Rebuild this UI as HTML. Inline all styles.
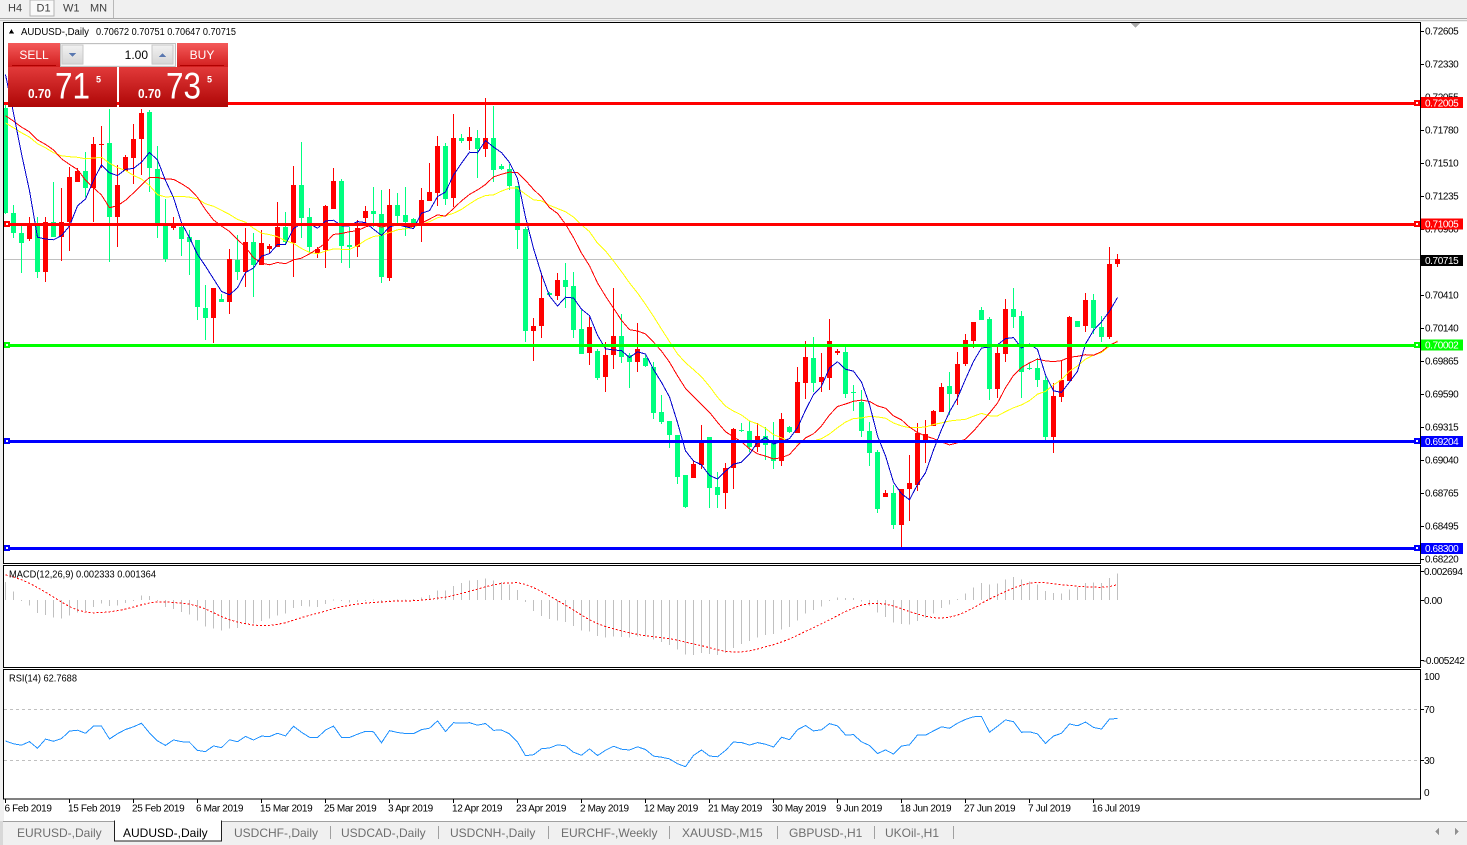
<!DOCTYPE html>
<html><head><meta charset="utf-8">
<style>
html,body{margin:0;padding:0;width:1467px;height:845px;overflow:hidden;background:#f0f0f0;}
svg{display:block;font-family:"Liberation Sans",Arial,sans-serif;}
.ax{font-size:10px;letter-spacing:-0.4px;fill:#000;}
.dt{font-size:10px;letter-spacing:-0.35px;fill:#000;}
.tab{font-size:12px;fill:#6e6e6e;}
.tb{font-size:11px;fill:#404040;}
</style></head><body>
<svg id="s" width="1467" height="845" viewBox="0 0 1467 845" xmlns="http://www.w3.org/2000/svg" shape-rendering="crispEdges">
<defs>
<linearGradient id="gBtn" x1="0" y1="0" x2="0" y2="1"><stop offset="0" stop-color="#f45a5a"/><stop offset="1" stop-color="#d21e1e"/></linearGradient>
<linearGradient id="gBig" x1="0" y1="0" x2="0" y2="1"><stop offset="0" stop-color="#e23a3a"/><stop offset="1" stop-color="#ae0606"/></linearGradient>
<linearGradient id="gArr" x1="0" y1="0" x2="0" y2="1"><stop offset="0" stop-color="#f2f2f2"/><stop offset="1" stop-color="#d6d6d6"/></linearGradient>
<clipPath id="cMain"><rect x="4" y="23" width="1416" height="540"/></clipPath>
<clipPath id="cMacd"><rect x="4" y="566" width="1416" height="101"/></clipPath>
<clipPath id="cRsi"><rect x="4" y="670" width="1416" height="128"/></clipPath>
</defs>

<rect x="0" y="0" width="1467" height="845" fill="#f0f0f0"/>
<rect x="30" y="0" width="24" height="16" fill="#f9f9f9" stroke="#b4b4b4"/>
<text class="tb" x="8" y="11.5">H4</text>
<text class="tb" x="36.5" y="11.5">D1</text>
<text class="tb" x="63" y="11.5">W1</text>
<text class="tb" x="90" y="11.5">MN</text>
<rect x="113" y="0" width="1" height="18" fill="#b8b8b8"/>
<rect x="0" y="18" width="1467" height="1" fill="#a8a8a8"/>
<rect x="0" y="20" width="1467" height="1" fill="#c8c8c8"/>

<rect x="4" y="22" width="1463" height="799" fill="#ffffff"/>

<rect x="3.5" y="22.5" width="1417" height="541" fill="none" stroke="#000"/>
<rect x="3.5" y="565.5" width="1417" height="102" fill="none" stroke="#000"/>
<rect x="3.5" y="669.5" width="1417" height="129.5" fill="none" stroke="#000"/>

<polygon points="1131,23 1140,23 1135.5,28" fill="#a8a8a8"/>

<rect x="4" y="259" width="1416" height="1" fill="#c0c0c0"/>

<g id="candles" clip-path="url(#cMain)"></g>
<g id="mas" clip-path="url(#cMain)"></g>

<g clip-path="url(#cMain)">
<rect x="4" y="102" width="1416" height="3" fill="#ff0000"/>
<rect x="4" y="223" width="1416" height="3" fill="#ff0000"/>
<rect x="4" y="344" width="1416" height="3" fill="#00ff00"/>
<rect x="4" y="440" width="1416" height="3" fill="#0000ff"/>
<rect x="4" y="547" width="1416" height="3" fill="#0000ff"/>
<rect x="4" y="221" width="6" height="6" fill="#ff0000"/><rect x="6" y="223" width="2" height="2" fill="#fff"/>
<rect x="4" y="342" width="6" height="6" fill="#00ff00"/><rect x="6" y="344" width="2" height="2" fill="#fff"/>
<rect x="4" y="438" width="6" height="6" fill="#0000ff"/><rect x="6" y="440" width="2" height="2" fill="#fff"/>
<rect x="4" y="545" width="6" height="6" fill="#0000ff"/><rect x="6" y="547" width="2" height="2" fill="#fff"/>
<rect x="1414" y="100" width="6" height="6" fill="#ff0000"/><rect x="1416" y="102" width="2" height="2" fill="#fff"/>
<rect x="1414" y="221" width="6" height="6" fill="#ff0000"/><rect x="1416" y="223" width="2" height="2" fill="#fff"/>
<rect x="1414" y="342" width="6" height="6" fill="#00ff00"/><rect x="1416" y="344" width="2" height="2" fill="#fff"/>
<rect x="1414" y="438" width="6" height="6" fill="#0000ff"/><rect x="1416" y="440" width="2" height="2" fill="#fff"/>
<rect x="1414" y="545" width="6" height="6" fill="#0000ff"/><rect x="1416" y="547" width="2" height="2" fill="#fff"/>
</g>

<polygon points="9,33.5 14,33.5 11.5,29" fill="#000"/>
<text x="21" y="35" font-size="10" textLength="68" lengthAdjust="spacingAndGlyphs">AUDUSD-,Daily</text>
<text x="96" y="35" font-size="10" textLength="140" lengthAdjust="spacingAndGlyphs">0.70672 0.70751 0.70647 0.70715</text>

<rect x="8" y="43" width="52" height="24" fill="url(#gBtn)"/>
<rect x="12" y="65" width="44" height="1" fill="#b00000"/>
<text x="34" y="59" font-size="12" fill="#fff" text-anchor="middle">SELL</text>
<rect x="60.5" y="43.5" width="115" height="23" fill="#f4f4f4" stroke="#c0c0c0"/>
<rect x="83" y="45" width="69" height="20" fill="#ffffff"/>
<rect x="62" y="45" width="21" height="19" fill="url(#gArr)" stroke="#c8c8c8"/>
<polygon points="69,53 76,53 72.5,57" fill="#5a78b0"/>
<rect x="152" y="45" width="21" height="19" fill="url(#gArr)" stroke="#c8c8c8"/>
<polygon points="159,57 166,57 162.5,53" fill="#5a78b0"/>
<text x="148" y="59" font-size="12" fill="#000" text-anchor="end">1.00</text>
<rect x="177" y="43" width="51" height="24" fill="url(#gBtn)"/>
<rect x="180" y="65" width="44" height="1" fill="#b00000"/>
<text x="202" y="59" font-size="12" fill="#fff" text-anchor="middle">BUY</text>
<rect x="8" y="67" width="109" height="40" fill="url(#gBig)"/>
<rect x="119" y="67" width="109" height="40" fill="url(#gBig)"/>
<text x="28" y="98" font-size="13" font-weight="bold" fill="#fff" textLength="23" lengthAdjust="spacingAndGlyphs">0.70</text>
<text x="55" y="98.5" font-size="37" fill="#fff" textLength="35" lengthAdjust="spacingAndGlyphs">71</text>
<text x="96" y="82.5" font-size="9" font-weight="bold" fill="#fff">5</text>
<text x="138" y="98" font-size="13" font-weight="bold" fill="#fff" textLength="23" lengthAdjust="spacingAndGlyphs">0.70</text>
<text x="166" y="98.5" font-size="37" fill="#fff" textLength="35" lengthAdjust="spacingAndGlyphs">73</text>
<text x="207" y="82.5" font-size="9" font-weight="bold" fill="#fff">5</text>

<g class="ax">
<text x="1425" y="34.5">0.72605</text>
<text x="1425" y="67.5">0.72330</text>
<text x="1425" y="100.5">0.72055</text>
<text x="1425" y="133.5">0.71780</text>
<text x="1425" y="166.5">0.71510</text>
<text x="1425" y="199.5">0.71235</text>
<text x="1425" y="232.5">0.70960</text>
<text x="1425" y="265.5">0.70685</text>
<text x="1425" y="298.5">0.70410</text>
<text x="1425" y="331.5">0.70140</text>
<text x="1425" y="364.5">0.69865</text>
<text x="1425" y="397.5">0.69590</text>
<text x="1425" y="430.5">0.69315</text>
<text x="1425" y="463.5">0.69040</text>
<text x="1425" y="496.5">0.68765</text>
<text x="1425" y="529.5">0.68495</text>
<text x="1425" y="562.5">0.68220</text>
</g>
<g fill="#000">
<rect x="1421" y="31" width="3" height="1"/><rect x="1421" y="64" width="3" height="1"/><rect x="1421" y="97" width="3" height="1"/>
<rect x="1421" y="130" width="3" height="1"/><rect x="1421" y="163" width="3" height="1"/><rect x="1421" y="196" width="3" height="1"/>
<rect x="1421" y="229" width="3" height="1"/><rect x="1421" y="262" width="3" height="1"/><rect x="1421" y="295" width="3" height="1"/>
<rect x="1421" y="328" width="3" height="1"/><rect x="1421" y="361" width="3" height="1"/><rect x="1421" y="394" width="3" height="1"/>
<rect x="1421" y="427" width="3" height="1"/><rect x="1421" y="460" width="3" height="1"/><rect x="1421" y="493" width="3" height="1"/>
<rect x="1421" y="526" width="3" height="1"/><rect x="1421" y="559" width="3" height="1"/>
</g>
<rect x="1421" y="97" width="42" height="11" fill="#ff0000"/>
<text class="ax" x="1425" y="106.5" style="fill:#fff">0.72005</text>
<rect x="1421" y="218.5" width="42" height="11" fill="#ff0000"/>
<text class="ax" x="1425" y="227.5" style="fill:#fff">0.71005</text>
<rect x="1421" y="255" width="42" height="11" fill="#000000"/>
<text class="ax" x="1425" y="264" style="fill:#fff">0.70715</text>
<rect x="1421" y="339.5" width="42" height="11" fill="#00ff00"/>
<text class="ax" x="1425" y="348.5" style="fill:#fff">0.70002</text>
<rect x="1421" y="436" width="42" height="11" fill="#0000ff"/>
<text class="ax" x="1425" y="445" style="fill:#fff">0.69204</text>
<rect x="1421" y="543" width="42" height="11" fill="#0000ff"/>
<text class="ax" x="1425" y="552" style="fill:#fff">0.68300</text>

<g id="macd" clip-path="url(#cMacd)"></g>
<text x="9" y="577.5" font-size="10" textLength="147" lengthAdjust="spacingAndGlyphs">MACD(12,26,9) 0.002333 0.001364</text>
<g class="ax">
<text x="1424" y="575">0.002694</text>
<text x="1424" y="604">0.00</text>
<text x="1423" y="664">-0.005242</text>
</g>
<rect x="1421" y="571" width="3" height="1" fill="#000"/>
<rect x="1421" y="600" width="3" height="1" fill="#000"/>
<rect x="1421" y="660" width="3" height="1" fill="#000"/>

<line x1="4" y1="709.5" x2="1420" y2="709.5" stroke="#c0c0c0" stroke-dasharray="3,3"/>
<line x1="4" y1="760.5" x2="1420" y2="760.5" stroke="#c0c0c0" stroke-dasharray="3,3"/>
<g id="rsi" clip-path="url(#cRsi)"></g>
<text x="9" y="681.5" font-size="10" textLength="68" lengthAdjust="spacingAndGlyphs">RSI(14) 62.7688</text>
<g class="ax">
<text x="1424" y="680">100</text>
<text x="1424" y="713">70</text>
<text x="1424" y="764">30</text>
<text x="1424" y="796">0</text>
</g>
<rect x="1421" y="709" width="3" height="1" fill="#000"/>
<rect x="1421" y="760" width="3" height="1" fill="#000"/>

<g fill="#000">
<rect x="5" y="799" width="1" height="4"/><rect x="69" y="799" width="1" height="4"/><rect x="133" y="799" width="1" height="4"/>
<rect x="197" y="799" width="1" height="4"/><rect x="261" y="799" width="1" height="4"/><rect x="325" y="799" width="1" height="4"/>
<rect x="389" y="799" width="1" height="4"/><rect x="453" y="799" width="1" height="4"/><rect x="517" y="799" width="1" height="4"/>
<rect x="581" y="799" width="1" height="4"/><rect x="645" y="799" width="1" height="4"/><rect x="709" y="799" width="1" height="4"/>
<rect x="773" y="799" width="1" height="4"/><rect x="837" y="799" width="1" height="4"/><rect x="901" y="799" width="1" height="4"/>
<rect x="965" y="799" width="1" height="4"/><rect x="1029" y="799" width="1" height="4"/><rect x="1093" y="799" width="1" height="4"/>
</g>
<g class="dt">
<text x="4.5" y="811.5">6 Feb 2019</text>
<text x="68" y="811.5">15 Feb 2019</text>
<text x="132" y="811.5">25 Feb 2019</text>
<text x="196" y="811.5">6 Mar 2019</text>
<text x="260" y="811.5">15 Mar 2019</text>
<text x="324" y="811.5">25 Mar 2019</text>
<text x="388" y="811.5">3 Apr 2019</text>
<text x="452" y="811.5">12 Apr 2019</text>
<text x="516" y="811.5">23 Apr 2019</text>
<text x="580" y="811.5">2 May 2019</text>
<text x="644" y="811.5">12 May 2019</text>
<text x="708" y="811.5">21 May 2019</text>
<text x="772" y="811.5">30 May 2019</text>
<text x="836" y="811.5">9 Jun 2019</text>
<text x="900" y="811.5">18 Jun 2019</text>
<text x="964" y="811.5">27 Jun 2019</text>
<text x="1028" y="811.5">7 Jul 2019</text>
<text x="1092" y="811.5">16 Jul 2019</text>
</g>

<rect x="0" y="821" width="1467" height="24" fill="#f0f0f0"/>
<rect x="0" y="821" width="1467" height="1" fill="#a0a0a0"/>
<rect x="0" y="821" width="3" height="24" fill="#d8d8d8"/>
<rect x="114.5" y="821" width="107" height="20" fill="#ffffff" stroke="#202020"/>
<rect x="115" y="820" width="106" height="2" fill="#ffffff"/>
<text class="tab" x="17" y="837">EURUSD-,Daily</text>
<text class="tab" x="123" y="837" style="fill:#000">AUDUSD-,Daily</text>
<text class="tab" x="234" y="837">USDCHF-,Daily</text>
<text class="tab" x="341" y="837">USDCAD-,Daily</text>
<text class="tab" x="450" y="837">USDCNH-,Daily</text>
<text class="tab" x="561" y="837">EURCHF-,Weekly</text>
<text class="tab" x="682" y="837">XAUUSD-,M15</text>
<text class="tab" x="789" y="837">GBPUSD-,H1</text>
<text class="tab" x="885" y="837">UKOil-,H1</text>
<g fill="#a0a0a0">
<rect x="330" y="826" width="1" height="13"/><rect x="438" y="826" width="1" height="13"/><rect x="548" y="826" width="1" height="13"/>
<rect x="669" y="826" width="1" height="13"/><rect x="777" y="826" width="1" height="13"/><rect x="874" y="826" width="1" height="13"/>
<rect x="953" y="826" width="1" height="13"/>
</g>
<polygon points="1439,828 1439,835 1435,831.5" fill="#909090"/>
<polygon points="1455,828 1455,835 1459,831.5" fill="#909090"/>
</svg>
<script>
(function(){
const D=[
['g',108,213,104,214],['g',213,233,205,238],['g',233,243,225,273],['r',225,239,217,241],['g',226,272,217,278],
['r',222,272,217,282],['g',222,237,182,237],['r',222,237,188,261],['r',177,222,167,251],['r',171,182,168,182],
['g',171,188,152,197],['r',144,188,137,222],['r',144,145,126,168],['g',143,217,109,262],['r',185,217,165,247],
['r',157,171,155,171],['r',139,158,124,184],['r',113,139,109,175],['g',112,168,110,192],['g',169,223,146,238],
['g',225,259,199,262],['r',225,228,217,230],['g',227,239,222,256],['g',237,242,230,275],['g',240,307,240,320],
['g',308,318,285,340],['r',288,318,288,343],['g',299,302,294,302],['r',259,302,249,314],['g',260,272,235,280],
['r',242,272,228,287],['g',242,265,233,297],['r',243,265,230,265],['r',246,249,244,253],['r',227,247,202,247],
['g',227,242,212,244],['r',185,243,166,277],['g',185,218,142,238],['g',217,247,208,253],['r',249,253,247,258],
['r',206,250,205,268],['r',181,209,168,209],['g',181,246,179,263],['g',245,247,227,268],['r',228,247,220,257],
['r',211,218,206,222],['g',211,214,187,227],['g',214,277,190,283],['r',205,278,189,281],['g',205,216,193,223],
['g',215,222,187,236],['g',219,223,218,223],['r',200,223,188,242],['r',192,201,163,201],['r',146,193,136,206],
['g',146,199,143,205],['r',138,198,114,207],['g',138,141,134,143],['r',137,141,127,150],['g',138,149,130,178],
['r',138,149,98,157],['g',138,170,106,182],['g',166,169,164,170],['g',169,186,164,190],['g',186,230,186,249],
['g',229,331,227,342],['r',326,331,318,361],['r',298,326,273,338],['g',293,295,292,295],['r',280,296,273,300],
['g',280,287,263,308],['g',286,330,272,338],['g',329,354,310,354],['r',327,353,317,365],['g',351,378,349,380],
['r',355,377,342,392],['r',336,355,288,369],['g',336,357,314,363],['g',355,362,353,388],['r',349,362,323,372],
['g',358,366,355,367],['g',367,413,362,419],['g',412,422,395,424],['g',421,435,421,448],['g',435,477,435,484],
['g',475,507,475,508],['r',464,478,460,478],['r',441,465,425,469],['g',437,488,437,508],['g',487,495,472,508],
['r',468,493,463,509],['r',429,468,428,489],['g',430,431,423,432],['g',431,447,421,452],['r',436,447,423,452],
['g',436,445,427,460],['g',443,461,422,469],['r',419,461,413,466],['g',427,432,426,433],['r',382,433,367,433],
['r',357,383,341,399],['g',358,383,337,392],['r',377,382,353,392],['r',341,378,319,390],['r',351,353,349,355],
['g',352,394,347,398],['g',392,393,385,411],['g',402,431,390,437],['g',431,453,422,466],['g',452,509,450,513],
['r',493,497,490,497],['g',493,525,485,529],['r',489,525,489,548],['r',483,489,455,521],['r',433,485,423,491],
['r',434,440,420,463],['r',411,426,410,426],['r',387,412,383,412],['g',386,394,372,415],['r',364,394,352,405],
['r',340,364,334,366],['r',322,341,322,348],['g',310,320,307,320],['g',319,389,317,400],['r',353,389,347,398],
['r',309,354,299,362],['g',309,317,288,328],['g',316,372,311,398],['g',368,369,363,370],['g',368,380,358,387],
['g',380,437,376,440],['r',396,437,383,453],['r',380,397,361,402],['r',317,381,316,381],['g',321,327,321,327],
['r',300,326,293,332],['g',300,328,294,334],['g',327,337,316,342],['r',264,337,247,339],['r',259,264,254,267]
];
const NS="http://www.w3.org/2000/svg";
function mk(t,a,p){const e=document.createElementNS(NS,t);for(const k in a)e.setAttribute(k,a[k]);p.appendChild(e);return e;}
const gC=document.getElementById('candles'),gM=document.getElementById('mas'),gH=document.getElementById('macd'),gR=document.getElementById('rsi');
const X=i=>5+8*i;
D.forEach((d,i)=>{const col=d[0]=='r'?'#ff0000':'#00ff7f';const x=X(i);
 mk('rect',{x:x,y:d[3],width:1,height:Math.max(1,d[4]-d[3]),fill:col},gC);
 mk('rect',{x:x-2,y:d[1],width:5,height:Math.max(1,d[2]-d[1]),fill:col},gC);});
const C=D.map(d=>d[0]=='r'?d[1]:d[2]);
const pre=[];for(let k=0;k<6;k++)pre.push(140);for(let k=0;k<6;k++)pre.push(159);for(let k=0;k<3;k++)pre.push(98);for(let k=0;k<4;k++)pre.push(40);
const A=pre.concat(C),P=pre.length;
function sma(n,color){const pts=[];for(let i=0;i<C.length;i++){let s=0;for(let k=0;k<n;k++)s+=A[P+i-k];pts.push((X(i)+0.5)+','+(s/n).toFixed(1));}
 mk('polyline',{points:pts.join(' '),fill:'none',stroke:color,'stroke-width':1},gM);}
sma(20,'#ffff00');sma(14,'#ff0000');sma(5,'#0000cd');
const pr=y=>0.72605-(y-31)/12045;
let e12=0.7200,e26=0.7175;const H=[];for(let k=0;k<8;k++)H.push(0.0023);
const sp=[];
C.forEach((c,i)=>{const p=pr(c);e12+=(p-e12)*2/13;e26+=(p-e26)*2/27;const m=e12-e26;H.push(m);
 let s=0;for(let k=0;k<9;k++)s+=H[H.length-1-k];s/=9;
 const y=600-m*11300;const x=X(i);
 mk('rect',{x:x,y:Math.min(600,y).toFixed(1),width:1,height:Math.max(1,Math.abs(600-y)).toFixed(1),fill:'#c0c0c0'},gH);
 sp.push((x+0.5)+','+(600-s*11300).toFixed(1));});
mk('polyline',{points:sp.join(' '),fill:'none',stroke:'#ff0000','stroke-width':1,'stroke-dasharray':'2,2'},gH);
let prev=pr(108),ag=0.0012,al=0.0008;const rp=[];
C.forEach((c,i)=>{const p=pr(c),d=p-prev;prev=p;ag=(ag*13+Math.max(d,0))/14;al=(al*13+Math.max(-d,0))/14;
 const r=100-100/(1+ag/al);rp.push((X(i)+0.5)+','+(760-(r-30)*1.275).toFixed(1));});
mk('polyline',{points:rp.join(' '),fill:'none',stroke:'#1e90ff','stroke-width':1},gR);
})();
</script>
</body></html>
